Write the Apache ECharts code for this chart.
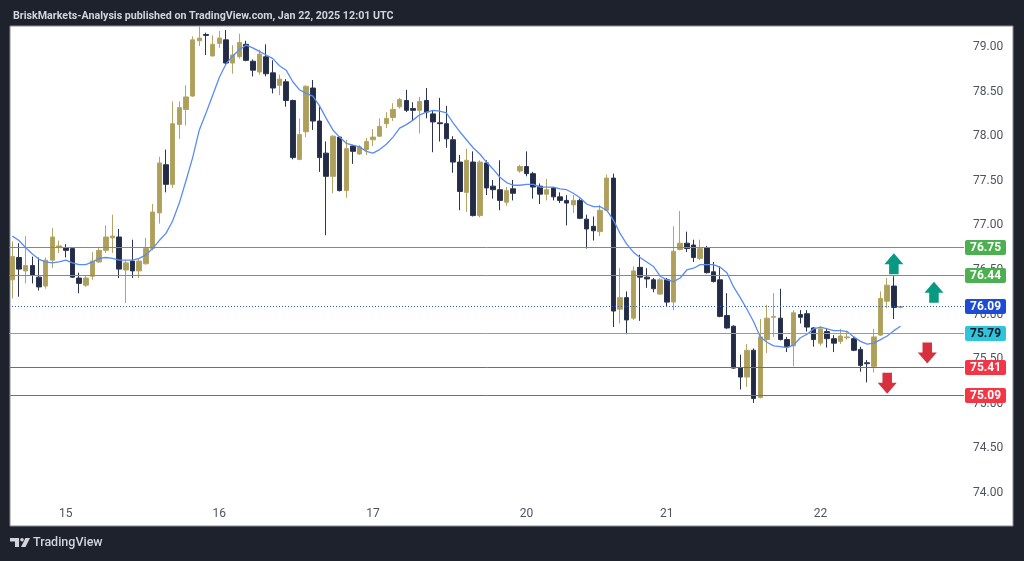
<!DOCTYPE html>
<html>
<head>
<meta charset="utf-8">
<script src="https://cdn.jsdelivr.net/npm/echarts/dist/echarts.min.js"></script>
<style>
html, body { margin: 0; padding: 0; background: #1e222d; }
#chart { width: 1024px; height: 561px; }
</style>
</head>
<body>
<div id="chart"></div>
<script>
// 1H candles (open / close / high / low)
var opens = [
	76.39, 76.64, 76.49, 76.55, 76.42, 76.32, 76.61, 76.75, 76.75, 76.74,
	76.41, 76.33, 76.43, 76.59, 76.72, 76.86, 76.87, 76.50, 76.60, 76.49,
	76.57, 76.74, 77.14, 77.68, 77.46, 78.13, 78.30, 78.45, 79.07, 79.14,
	78.90, 79.04, 79.08, 78.82, 78.89, 79.03, 78.84, 78.72, 78.89, 78.71,
	78.57, 78.61, 78.40, 77.74, 78.05, 78.54, 78.17, 77.81, 77.55, 77.99,
	77.39, 77.89, 77.80, 77.85, 77.96, 78.00, 78.14, 78.21, 78.33, 78.40,
	78.31, 78.29, 78.40, 78.25, 78.15, 78.14, 77.96, 77.71, 77.37, 77.71,
	77.11, 77.70, 77.44, 77.40, 77.26, 77.41, 77.61, 77.66, 77.58, 77.44,
	77.35, 77.42, 77.32, 77.28, 77.23, 77.28, 77.07, 76.99, 76.93, 77.17,
	77.53, 76.06, 76.19, 75.96, 76.53, 76.42, 76.39, 76.23, 76.39, 76.14,
	76.73, 76.80, 76.78, 76.63, 76.75, 76.48, 76.39, 75.99, 75.87, 75.40,
	75.30, 75.60, 75.07, 75.72, 75.97, 75.96, 75.72, 75.65, 76.00, 76.01,
	75.85, 75.68, 75.81, 75.73, 75.70, 75.74, 75.73, 75.61, 75.46, 75.42,
	75.77, 76.15, 76.32, 76.08
];
var closes = [
	76.65, 76.51, 76.55, 76.44, 76.31, 76.61, 76.87, 76.77, 76.72, 76.42,
	76.35, 76.41, 76.60, 76.72, 76.87, 76.88, 76.51, 76.58, 76.49, 76.60,
	76.74, 77.15, 77.70, 77.46, 78.14, 78.32, 78.44, 79.08, 79.10, 79.13,
	79.03, 79.10, 78.82, 78.91, 79.05, 78.85, 78.74, 78.92, 78.70, 78.54,
	78.64, 78.40, 77.76, 78.02, 78.56, 78.17, 77.76, 77.55, 78.00, 77.39,
	77.86, 77.83, 77.88, 77.94, 77.99, 78.11, 78.20, 78.30, 78.41, 78.29,
	78.29, 78.39, 78.27, 78.16, 78.14, 77.97, 77.71, 77.38, 77.73, 77.11,
	77.71, 77.42, 77.40, 77.28, 77.39, 77.36, 77.66, 77.58, 77.43, 77.35,
	77.40, 77.32, 77.28, 77.25, 77.28, 77.08, 76.96, 76.94, 77.17, 77.53,
	76.04, 76.19, 75.94, 76.49, 76.42, 76.40, 76.29, 76.39, 76.14, 76.71,
	76.80, 76.74, 76.64, 76.74, 76.47, 76.37, 75.98, 75.85, 75.40, 75.30,
	75.60, 75.06, 75.75, 75.96, 75.98, 75.72, 75.64, 76.02, 75.97, 75.86,
	75.72, 75.84, 75.73, 75.68, 75.76, 75.75, 75.60, 75.43, 75.45, 75.75,
	76.18, 76.33, 76.08, 76.09
];
var highs = [
	76.82, 76.80, 76.88, 76.65, 76.64, 76.64, 76.97, 76.83, 76.79, 76.75,
	76.47, 76.44, 76.70, 76.75, 77.00, 77.12, 76.96, 76.61, 76.84, 76.63,
	76.86, 77.24, 77.77, 77.85, 78.39, 78.39, 78.57, 79.12, 79.23, 79.16,
	79.13, 79.18, 79.19, 79.02, 79.15, 79.07, 78.86, 78.97, 79.03, 78.85,
	78.69, 78.64, 78.41, 78.20, 78.57, 78.63, 78.35, 77.94, 78.01, 78.00,
	77.96, 77.90, 77.90, 77.98, 78.08, 78.20, 78.27, 78.37, 78.43, 78.52,
	78.38, 78.44, 78.54, 78.29, 78.43, 78.34, 78.00, 77.79, 77.86, 77.83,
	77.73, 77.73, 77.51, 77.73, 77.43, 77.51, 77.68, 77.83, 77.60, 77.47,
	77.52, 77.43, 77.37, 77.34, 77.34, 77.30, 77.12, 77.10, 77.23, 77.57,
	77.58, 76.52, 76.26, 76.54, 76.67, 76.52, 76.41, 76.41, 76.41, 76.99,
	77.16, 76.93, 76.84, 76.84, 76.77, 76.59, 76.54, 76.24, 75.88, 75.55,
	75.67, 75.62, 75.95, 76.11, 76.24, 76.29, 75.75, 76.05, 76.05, 76.05,
	75.86, 75.87, 75.85, 75.77, 75.84, 75.82, 75.75, 75.64, 75.49, 75.84,
	76.26, 76.41, 76.43, 76.10
];
var lows = [
	76.18, 76.20, 76.35, 76.35, 76.27, 76.29, 76.52, 76.69, 76.64, 76.41,
	76.24, 76.31, 76.39, 76.58, 76.69, 76.69, 76.41, 76.13, 76.41, 76.41,
	76.56, 76.72, 77.02, 77.37, 77.42, 77.97, 78.12, 78.44, 79.01, 78.91,
	78.89, 78.99, 78.80, 78.70, 78.87, 78.84, 78.67, 78.69, 78.67, 78.48,
	78.46, 78.33, 77.74, 77.73, 77.99, 78.07, 77.60, 76.89, 77.36, 77.38,
	77.31, 77.69, 77.79, 77.79, 77.89, 77.99, 78.09, 78.17, 78.31, 78.27,
	78.18, 78.03, 78.20, 77.82, 77.94, 77.87, 77.59, 77.17, 77.15, 77.10,
	77.09, 77.34, 77.30, 77.17, 77.22, 77.28, 77.59, 77.55, 77.30, 77.24,
	77.28, 77.28, 77.25, 77.00, 77.14, 77.07, 76.74, 76.83, 76.88, 77.16,
	75.86, 75.90, 75.78, 75.94, 75.93, 76.30, 76.25, 76.22, 76.09, 76.05,
	76.72, 76.70, 76.59, 76.61, 76.46, 76.36, 75.97, 75.84, 75.39, 75.16,
	75.19, 75.01, 75.06, 75.57, 75.75, 75.71, 75.58, 75.42, 75.90, 75.81,
	75.64, 75.65, 75.63, 75.58, 75.67, 75.72, 75.59, 75.36, 75.24, 75.35,
	75.76, 76.07, 75.95, 76.07
];
// blue moving average, also
var ma = [
	76.88, 76.83, 76.75, 76.68, 76.62, 76.59, 76.58, 76.59, 76.61, 76.58,
	76.56, 76.56, 76.59, 76.63, 76.64, 76.63, 76.61, 76.61, 76.61, 76.63,
	76.67, 76.74, 76.83, 76.91, 77.05, 77.25, 77.50, 77.76, 78.07, 78.26,
	78.46, 78.66, 78.81, 78.90, 78.97, 79.02, 78.99, 78.95, 78.91, 78.87,
	78.79, 78.74, 78.61, 78.52, 78.48, 78.45, 78.34, 78.20, 78.07, 77.99,
	77.92, 77.90, 77.88, 77.83, 77.81, 77.85, 77.91, 77.99, 78.09, 78.13,
	78.18, 78.24, 78.27, 78.29, 78.28, 78.26, 78.15, 78.05, 77.96, 77.87,
	77.80, 77.71, 77.63, 77.54, 77.48, 77.45, 77.45, 77.46, 77.46, 77.43,
	77.43, 77.43, 77.41, 77.40, 77.36, 77.31, 77.24, 77.21, 77.21, 77.17,
	77.06, 76.91, 76.79, 76.70, 76.64, 76.59, 76.54, 76.43, 76.39, 76.37,
	76.41, 76.50, 76.52, 76.56, 76.56, 76.56, 76.53, 76.47, 76.31, 76.19,
	76.06, 75.92, 75.75, 75.69, 75.65, 75.64, 75.63, 75.66, 75.74, 75.78,
	75.84, 75.86, 75.84, 75.82, 75.82, 75.81, 75.75, 75.70, 75.67, 75.68,
	75.72, 75.76, 75.82, 75.87
];

// time axis: bar index of each day start and its label
var dayIndex = [8, 31, 54, 77, 98, 121];
var dayLabels = ['15', '16', '17', '20', '21', '22'];
var slotCount = 143; // bars + empty space on the right

// price scale
var priceTicks = [74, 74.5, 75, 75.5, 76, 76.5, 77, 77.5, 78, 78.5, 79];
var priceMin = 73.888;
var priceMax = 79.224;

// horizontal levels
var levels = [76.75, 76.44, 76.09, 75.79, 75.41, 75.09];
var levelColors = ['#4caf50', '#4caf50', '#2f5be0', '#2ec5dc', '#f23645', '#f23645'];
var levelLabelBg = ['#4caf50', '#4caf50', '#1d4bd4', '#2ec5dc', '#f23645', '#f23645'];
var levelTextColors = ['#fff', '#fff', '#fff', '#131722', '#fff', '#fff'];

// arrows [bar slot, price]
var arrowsUp = [[132, 76.57], [138, 76.25]];
var arrowsDown = [[137, 75.57], [131, 75.23]];

var gridLeft = 9;
var gridRight = 60;
var chartWidth = 1024;

var slots = [];
for (var i = 0; i < slotCount; i++) slots.push(String(i));

var candles = [];
for (var i = 0; i < opens.length; i++) {
	candles.push([opens[i], closes[i], lows[i], highs[i]]);
}

// frame, pane and footer logo
var baseGraphic = [
	{
		type: 'rect', z: -10, silent: true,
		shape: { x: 10, y: 26, width: 1003, height: 500 },
		style: { fill: '#ffffff', stroke: '#8a8d96', lineWidth: 1 }
	},
	{
		type: 'group', left: 10, top: 538,
		children: [
			{ type: 'polygon', shape: { points: [[0, 0], [9, 0], [9, 9], [5, 9], [5, 3.5], [0, 3.5]] }, style: { fill: '#d1d4dc' } },
			{ type: 'circle', shape: { cx: 12, cy: 1.8, r: 1.8 }, style: { fill: '#d1d4dc' } },
			{ type: 'polygon', shape: { points: [[15.5, 0], [20, 0], [15.5, 9], [11, 9]] }, style: { fill: '#d1d4dc' } }
		]
	},
	{
		type: 'text', left: 33, top: 536,
		style: { text: 'TradingView', fill: '#d1d4dc', fontSize: 12.5, fontFamily: 'Roboto', fontWeight: 500 }
	}
];

var chart = echarts.init(document.getElementById('chart'));
chart.setOption({
	animation: false,
	backgroundColor: '#1e222d',
	title: {
		text: 'BriskMarkets-Analysis published on TradingView.com, Jan 22, 2025 12:01 UTC',
		left: 8,
		top: 6,
		textStyle: { color: '#d1d4dc', fontSize: 10.7, fontWeight: 'bold', fontFamily: 'Roboto' }
	},
	graphic: baseGraphic,
	grid: { left: gridLeft, right: gridRight, top: 27, bottom: 58 },
	xAxis: {
		type: 'category',
		data: slots,
		boundaryGap: true,
		axisLine: { show: false },
		axisTick: { show: false },
		splitLine: { show: false },
		axisLabel: {
			interval: function (idx) { return dayIndex.indexOf(idx) >= 0; },
			formatter: function (v, idx) { return dayLabels[dayIndex.indexOf(idx)]; },
			color: '#50535e',
			fontSize: 12,
			fontFamily: 'Roboto',
			margin: 5
		}
	},
	yAxis: {
		type: 'value',
		position: 'right',
		min: priceMin,
		max: priceMax,
		scale: true,
		axisLine: { show: false },
		axisTick: { show: false },
		splitLine: { show: false },
		axisLabel: {
			customValues: priceTicks,
			formatter: function (v) { return v.toFixed(2); },
			color: '#50535e',
			fontSize: 12,
			fontFamily: 'Roboto',
			margin: 9
		}
	},
	series: [
		{
			type: 'candlestick',
			data: candles,
			barWidth: 5,
			itemStyle: {
				color: '#ae9f5b',
				color0: '#232b45',
				borderColor: '#b3a566',
				borderColor0: '#2c3550',
				borderWidth: 1
			}
		},
		{
			type: 'line',
			data: ma,
			showSymbol: false,
			z: 3,
			lineStyle: { color: '#5a8cf5', width: 1.3 }
		},
		{
			type: 'scatter',
			data: arrowsUp,
			symbol: 'path://M9 0L18 11H13.5V21H4.5V11H0Z',
			symbolSize: [19, 21],
			itemStyle: { color: '#089981', opacity: 1 },
			z: 4
		},
		{
			type: 'scatter',
			data: arrowsDown,
			symbol: 'path://M4.5 0H13.5V10H18L9 21L0 10H4.5Z',
			symbolSize: [19, 21],
			itemStyle: { color: '#d7303f', opacity: 1 },
			z: 4
		}
	]
});

// level lines + price tags, placed with the price axis scale and snapped to whole pixel rows
var levelGraphic = [];
for (var i = 0; i < levels.length; i++) {
	var y = Math.floor(chart.convertToPixel({ yAxisIndex: 0 }, levels[i])) + 0.5;
	levelGraphic.push({
		type: 'line', silent: true, z: 5,
		shape: { x1: gridLeft, y1: y, x2: chartWidth - gridRight, y2: y },
		style: { stroke: levelColors[i], lineWidth: 1, lineDash: i === 2 ? [1, 2] : null }
	});
	levelGraphic.push({
		type: 'text', silent: true, z: 6,
		x: chartWidth - gridRight + 1, y: y,
		style: {
			text: levels[i].toFixed(2),
			fill: levelTextColors[i],
			backgroundColor: levelLabelBg[i],
			borderRadius: 2,
			padding: [2, 5, 1, 5],
			fontSize: 12,
			fontWeight: 'bold',
			fontFamily: 'Roboto',
			align: 'left',
			verticalAlign: 'middle'
		}
	});
}
chart.setOption({ graphic: baseGraphic.concat(levelGraphic) });
</script>
</body>
</html>
